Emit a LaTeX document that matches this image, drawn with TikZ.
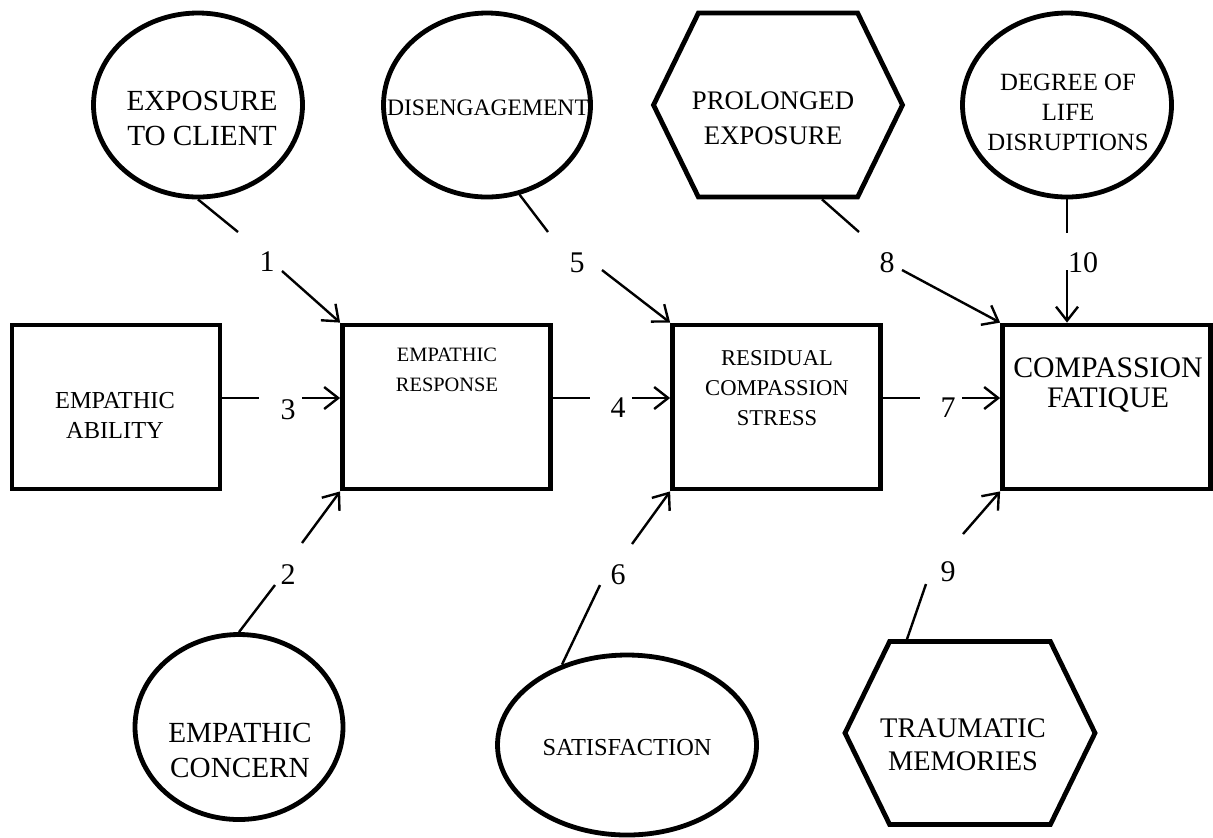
\documentclass[tikz,border=0pt]{standalone}
\usepackage{fontspec}
\setmainfont{Liberation Serif}
\usetikzlibrary{arrows.meta,positioning,shapes.geometric,shapes.symbols}

\tikzset{
  %% shapes
  oval/.style={draw, ellipse, line width=2.4pt, inner sep=0pt},
  hexa/.style={draw, signal, signal to=west and east, signal pointer angle=128,
               line width=2.4pt, inner sep=0pt},
  block/.style={draw, rectangle, line width=2.4pt,
                minimum width=104pt, minimum height=82pt},
  %% texts
  lbl/.style={align=center, inner sep=0pt},
  num/.style={font=\fontsize{15}{18}\selectfont, inner sep=0pt},
  %% connectors
  conn/.style={line width=1.2pt},
  arr/.style={line width=1.2pt, -{Straight Barb[length=7pt,width=11pt]}},
}

\begin{document}
\begin{tikzpicture}[x=0.5pt,y=-0.5pt]
\useasboundingbox (0,0) rectangle (1213,837);

%% top row
\node[oval, minimum width=104.5pt, minimum height=92pt] (expo) at (198,105) {};
\node[oval, minimum width=103.5pt, minimum height=92pt] (dise) at (487,105) {};
\node[hexa, minimum width=124.5pt, minimum height=92pt] (prol) at (778,105) {};
\node[oval, minimum width=104.5pt, minimum height=92pt] (degr) at (1067,105) {};

\node[lbl, font=\fontsize{14.6}{17.5}\selectfont] (expo-t) at (202,118) {EXPOSURE\\TO CLIENT};
\node[lbl, font=\fontsize{11.8}{14}\selectfont] (dise-t) at (488,108) {DISENGAGEMENT};
\node[lbl, font=\fontsize{13.4}{17.5}\selectfont] (prol-t) at (773,118) {PROLONGED\\EXPOSURE};
\node[lbl, font=\fontsize{12.4}{15}\selectfont] (degr-t) at (1068,112) {DEGREE OF\\LIFE\\DISRUPTIONS};

%% middle row
\node[block] (abil) at (116,407) {};
\node[block] (resp) at (446.5,407) {};
\node[block] (resi) at (776.5,407) {};
\node[block] (fat) at (1106.5,407) {};

\node[lbl, font=\fontsize{12.2}{15}\selectfont] (abil-t) at (115,415) {EMPATHIC\\ABILITY};
\node[lbl, font=\fontsize{10.2}{15}\selectfont] (resp-t) at (447,370) {EMPATHIC\\RESPONSE};
\node[lbl, font=\fontsize{11.3}{15}\selectfont] (resi-t) at (777,388) {RESIDUAL\\COMPASSION\\STRESS};
\node[lbl, font=\fontsize{14.9}{15}\selectfont] (fat-t) at (1108,385) {COMPASSION\\FATIQUE};

%% bottom row
\node[oval, minimum width=104pt, minimum height=92.5pt] (conc) at (239,727) {};
\node[oval, minimum width=129.5pt, minimum height=90pt] (sat) at (627,745) {};
\node[hexa, minimum width=125pt, minimum height=91.5pt] (trau) at (970,733) {};

\node[lbl, font=\fontsize{14.6}{17.5}\selectfont] (conc-t) at (240,750) {EMPATHIC\\CONCERN};
\node[lbl, font=\fontsize{12.2}{15}\selectfont] (sat-t) at (627,748) {SATISFACTION};
\node[lbl, font=\fontsize{14.2}{16.5}\selectfont] (trau-t) at (963,745) {TRAUMATIC\\MEMORIES};

%% numbers
\node[num] (n1) at (267,262) {1};
\node[num] (n2) at (288,575) {2};
\node[num] (n3) at (288,410) {3};
\node[num] (n4) at (618,408) {4};
\node[num] (n5) at (577,263) {5};
\node[num] (n6) at (618,575) {6};
\node[num] (n7) at (948,408) {7};
\node[num] (n8) at (887,263) {8};
\node[num] (n9) at (948,572) {9};
\node[num] (n10) at (1083,263) {10};

%% gap ends
\coordinate (e1) at (238,232);  \coordinate (s1) at (282,271);
\coordinate (e2) at (275,585);  \coordinate (s2) at (302,543);
\coordinate (e3) at (259,398);  \coordinate (s3) at (302,398);
\coordinate (e4) at (590,398);  \coordinate (s4) at (632,398);
\coordinate (e5) at (548,232);  \coordinate (s5) at (602,270);
\coordinate (e6) at (600,585);  \coordinate (s6) at (632,544);
\coordinate (e7) at (920,398);  \coordinate (s7) at (962,398);
\coordinate (e8) at (859,232);  \coordinate (s8) at (902,270);
\coordinate (e9) at (926,584);  \coordinate (s9) at (963,534);
\coordinate (e10) at (1067,233); \coordinate (s10) at (1067,270);

%% connectors
\draw[conn] (expo.south) -- (e1);
\draw[arr] (s1) -- (resp.north west);
\draw[conn] (conc.north) -- (e2);
\draw[arr] (s2) -- (resp.south west);
\draw[conn] (abil.east |- e3) -- (e3);
\draw[arr] (s3) -- (s3 -| resp.west);
\draw[conn] (resp.east |- e4) -- (e4);
\draw[arr] (s4) -- (s4 -| resi.west);
\draw[conn] (dise.-70) -- (e5);
\draw[arr] (s5) -- (resi.north west);
\draw[conn] (sat.129) -- (e6);
\draw[arr] (s6) -- (resi.south west);
\draw[conn] (resi.east |- e7) -- (e7);
\draw[arr] (s7) -- (s7 -| fat.west);
\draw[conn] ([xshift=22pt]prol.south) -- (e8);
\draw[arr] (s8) -- (fat.north west);
\draw[conn] ([xshift=-31.5pt]trau.north) -- (e9);
\draw[arr] (s9) -- (fat.south west);
\draw[conn] (degr.south) -- (e10);
\draw[arr] (s10) -- (s10 |- fat.north);
\end{tikzpicture}
\end{document}
